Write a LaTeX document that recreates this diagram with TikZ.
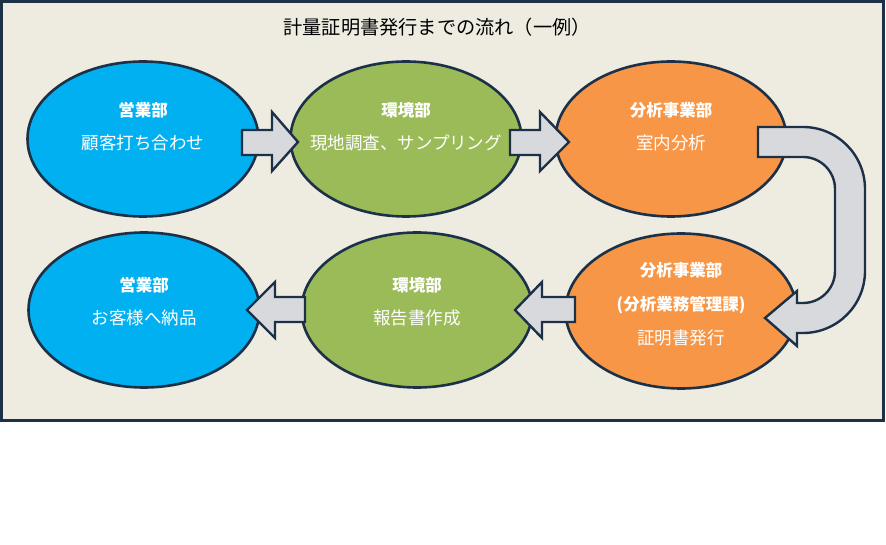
\documentclass[tikz,border=0pt]{standalone}
\usepackage{fontspec}
\setmainfont{Noto Sans CJK JP}
\usetikzlibrary{shapes.geometric}
\definecolor{navy}{HTML}{1C3048}
\definecolor{bgtan}{HTML}{EEECE1}
\definecolor{cblue}{HTML}{00B0F0}
\definecolor{cgreen}{HTML}{9BBB59}
\definecolor{corange}{HTML}{F79646}
\definecolor{agray}{HTML}{D8D9DD}
\begin{document}
\begin{tikzpicture}[x=1pt,y=1pt,
  frame/.style={draw=navy,line width=3pt,fill=bgtan},
  ell/.style={ellipse,draw=navy,line width=2.6pt,minimum width=231pt,minimum height=155pt,inner sep=0pt},
  hd/.style={text=white,font=\fontsize{16.5}{18}\selectfont\bfseries,inner sep=0pt},
  sub/.style={text=white,font=\fontsize{17.5}{19}\selectfont,inner sep=0pt},
  blk/.style={draw=navy,line width=2.4pt,fill=agray,line join=miter}]
\useasboundingbox (0,0) rectangle (886,-545);
\fill[white] (0,0) rectangle (886,-545);
\draw[frame] (1.5,-1.5) rectangle (883.5,-420);
\node[font=\fontsize{19.2}{21}\selectfont,inner sep=0pt] (title) at (437,-27) {計量証明書発行までの流れ（一例）};
% ellipses
\node[ell,fill=cblue] (e1) at (143,-139) {};
\node[ell,fill=cgreen] (e2) at (406,-139) {};
\node[ell,fill=corange] (e3) at (671,-139) {};
\node[ell,fill=corange] (e4) at (681,-311) {};
\node[ell,fill=cgreen] (e5) at (417,-310) {};
\node[ell,fill=cblue] (e6) at (144,-310) {};
% texts
\node[hd] (e1h) at (143,-110) {営業部};
\node[sub] (e1s) at (143,-143) {顧客打ち合わせ};
\node[hd] (e2h) at (406,-110) {環境部};
\node[sub] (e2s) at (406,-143) {現地調査、サンプリング};
\node[hd] (e3h) at (671,-110) {分析事業部};
\node[sub] (e3s) at (671,-143) {室内分析};
\node[hd] (e4h) at (681,-270) {分析事業部};
\node[hd] (e4m) at (681,-305) {(分析業務管理課)};
\node[sub] (e4s) at (681,-338) {証明書発行};
\node[hd] (e5h) at (417,-285) {環境部};
\node[sub] (e5s) at (417,-318) {報告書作成};
\node[hd] (e6h) at (144,-285) {営業部};
\node[sub] (e6s) at (144,-318) {お客様へ納品};
% block arrows
\draw[blk] (242,-130) -- (272,-130) -- (272,-112) -- (298,-142) -- (272,-171) -- (272,-155) -- (242,-155) -- cycle;
\draw[blk] (510,-130) -- (540,-130) -- (540,-112) -- (569,-142) -- (540,-171) -- (540,-155) -- (510,-155) -- cycle;
\draw[blk] (575,-297) -- (542,-297) -- (542,-282) -- (515,-310) -- (542,-338) -- (542,-322) -- (575,-322) -- cycle;
\draw[blk] (305,-297) -- (275,-297) -- (275,-282) -- (247,-310) -- (275,-338) -- (275,-322) -- (305,-322) -- cycle;
% U-turn arrow
\draw[blk] (758,-127) -- (803,-127) arc[start angle=90,end angle=0,radius=62]
  -- (865,-271) arc[start angle=0,end angle=-90,radius=62]
  -- (797,-333) -- (797,-346) -- (765,-318) -- (797,-291) -- (797,-303) -- (803,-303)
  arc[start angle=-90,end angle=0,radius=32]
  -- (835,-189) arc[start angle=0,end angle=90,radius=32]
  -- (758,-157) -- cycle;
\end{tikzpicture}
\end{document}
